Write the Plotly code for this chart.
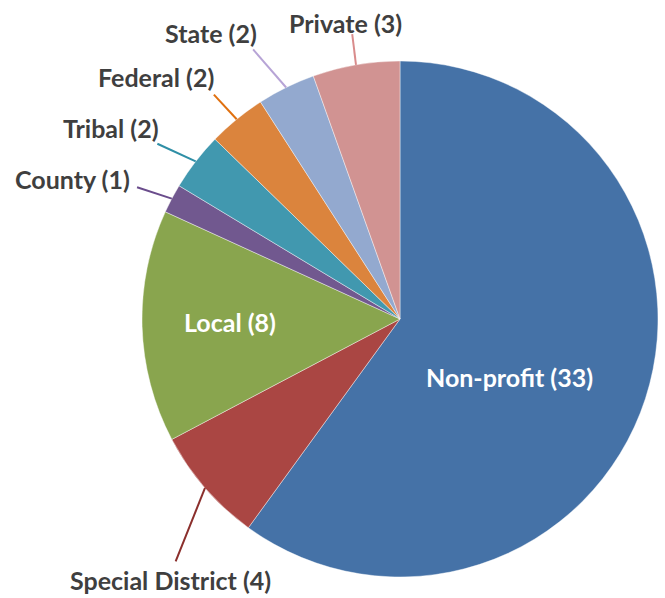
import math
import plotly.graph_objects as go

# ---- data ----
categories = ["Non-profit", "Special District", "Local", "County", "Tribal", "Federal", "State", "Private"]
counts = [33, 4, 8, 1, 2, 2, 2, 3]
colors = ["#4572A7", "#AA4643", "#89A54E", "#71588F", "#4198AF", "#DB843D", "#93A9CF", "#D19392"]
line_colors = ["#4572A7", "#8B2F2C", "#89A54E", "#6A4C8C", "#2F8FA6", "#E0700F", "#B7A4D6", "#D98C8C"]

W, H = 665, 598
CX, CY, R = 400, 319, 258  # pixel geometry of the pie

fig = go.Figure(go.Pie(
    labels=categories, values=counts, sort=False, direction="clockwise", rotation=0,
    marker=dict(colors=colors, line=dict(color="rgba(255,255,255,0.6)", width=0.7)),
    textinfo="none", hoverinfo="label+value", showlegend=False,
    domain=dict(x=[(CX - R) / W, (CX + R) / W], y=[(H - CY - R) / H, (H - CY + R) / H]),
))

total = sum(counts)
mids = []
acc = 0
for v in counts:
    mids.append((acc + v / 2) / total * 360)
    acc += v

def pt(angle_deg, rfac):
    a = math.radians(angle_deg)
    return CX + rfac * R * math.sin(a), CY - rfac * R * math.cos(a)

def paper(px, py):
    return px / W, 1 - py / H

FONT = "Lato"
FS = 25
style = {
    # name: (inside?, end radius, end angle delta, text dx, text dy)
    "Non-profit": (True, 0.48, 10, 0, 0),
    "Local": (True, 0.66, 0.6, 0, 0),
    "Special District": (False, 1.28, -6.3, -5, 19),
    "County": (False, 1.14, -1.2, -65, -8),
    "Tribal": (False, 1.16, -1.8, -46, -16),
    "Federal": (False, 1.13, -0.4, -58, -18),
    "State": (False, 1.19, -2.4, -42, -16),
    "Private": (False, 1.12, 0.3, -7, -11),
}

shapes = []
annotations = []
for name, v, m, lc in zip(categories, counts, mids, line_colors):
    inside, rf, da, tdx, tdy = style[name]
    label = f"{name} ({v})"
    if inside:
        x, y = pt(m + da, rf)
        px, py = paper(x, y)
        annotations.append(dict(x=px, y=py, xref="paper", yref="paper", text=f"<b>{label}</b>",
                                showarrow=False, font=dict(family=FONT, size=FS, color="white"),
                                xanchor="center", yanchor="middle"))
    else:
        x0, y0 = pt(m, 1.0)
        x1, y1 = pt(m + da, rf)
        a0 = paper(x0, y0)
        a1 = paper(x1, y1)
        shapes.append(dict(type="line", xref="paper", yref="paper", x0=a0[0], y0=a0[1], x1=a1[0], y1=a1[1],
                           line=dict(color=lc, width=2)))
        tx, ty = paper(x1 + tdx, y1 + tdy)
        annotations.append(dict(x=tx, y=ty, xref="paper", yref="paper", text=f"<b>{label}</b>",
                                showarrow=False, font=dict(family=FONT, size=FS, color="#3F3F3F"),
                                xanchor="center", yanchor="middle"))

fig.update_layout(
    width=W, height=H, margin=dict(l=0, r=0, t=0, b=0),
    paper_bgcolor="white", plot_bgcolor="white",
    shapes=shapes, annotations=annotations,
)
fig.write_html("out.html", config={"displayModeBar": False},
               post_script="document.body.style.margin='0';")
